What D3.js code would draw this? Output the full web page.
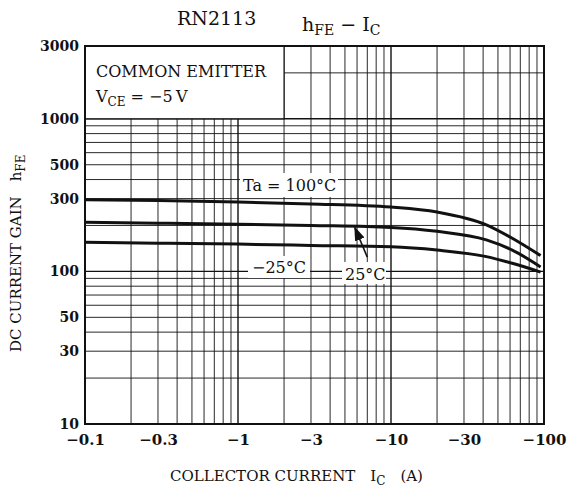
<!DOCTYPE html>
<html>
  <head>
    <meta charset="utf-8">
    <title></title>
  </head>
  <style>
  body{
    margin: 0;
    background: #fff;
    font-family: "DejaVu Serif", "Liberation Serif", serif;
  }
  .tick text{
    font-family: "DejaVu Serif", serif;
    font-weight: bold;
  }
  </style>
  <script src="https://d3js.org/d3.v7.min.js"></script>
  <body>
    <script>
    // collector current (A, shown negative) and hFE for each ambient temperature
    const currents = [0.1, 0.3, 1, 3, 10, 20, 42, 62, 95]
    const hfe100 = [295, 291, 285, 277, 264, 245, 202, 165, 127]
    const hfe25  = [210, 207, 204, 200, 194, 183, 161, 138, 107]
    const hfeM25 = [155, 153, 151, 148, 145, 138, 125, 113, 99]

    const xTicks = [0.1, 0.3, 1, 3, 10, 30, 100]
    const yTicks = [10, 30, 50, 100, 300, 500, 1000, 3000]

    var W = 568, H = 494
    var pad = { left: 85, top: 46, right: 24, bottom: 70 }

    var svg = d3.select("body").append("svg")
                .attr("width", W)
                .attr("height", H)

    var xScale = d3.scaleLog().domain([0.1, 100]).range([pad.left, W - pad.right])
    var yScale = d3.scaleLog().domain([10, 3000]).range([H - pad.bottom, pad.top])

    // grid: 1..9 per decade
    var xGrid = [], yGrid = []
    for (let e = -1; e < 2; e++) for (let m = 1; m < 10; m++) xGrid.push(m * Math.pow(10, e))
    for (let e = 1; e < 4; e++) for (let m = 1; m < 10; m++) { let v = m * Math.pow(10, e); if (v <= 3000) yGrid.push(v) }

    var grid = svg.append("g")
    grid.selectAll(".vx").data(xGrid).enter().append("line")
        .attr("x1", d => xScale(d)).attr("x2", d => xScale(d))
        .attr("y1", yScale(3000)).attr("y2", yScale(10))
        .attr("stroke", "#111")
        .attr("stroke-width", d => [0.1, 1, 10].includes(+d.toFixed(4)) ? 1.4 : 0.9)
    grid.selectAll(".hy").data(yGrid).enter().append("line")
        .attr("y1", d => yScale(d)).attr("y2", d => yScale(d))
        .attr("x1", xScale(0.1)).attr("x2", xScale(100))
        .attr("stroke", "#111")
        .attr("stroke-width", d => [100, 1000].includes(d) ? 1.4 : 0.9)

    // condition box, covers grid up to Ic = 2, hFE = 1000
    svg.append("rect")
       .attr("x", xScale(0.1)).attr("y", yScale(3000))
       .attr("width", xScale(2) - xScale(0.1))
       .attr("height", yScale(1000) - yScale(3000))
       .attr("fill", "#fff").attr("stroke", "#111").attr("stroke-width", 1.2)

    var boxText = svg.append("g").attr("font-size", "16px").attr("fill", "#111")
    boxText.append("text").attr("x", xScale(0.1) + 11).attr("y", yScale(3000) + 31)
           .text("COMMON EMITTER")
    var vce = boxText.append("text").attr("x", xScale(0.1) + 11).attr("y", yScale(3000) + 56)
    vce.append("tspan").text("V")
    vce.append("tspan").attr("font-size", "12px").attr("dy", 4).text("CE")
    vce.append("tspan").attr("dy", -4).text(" = \u22125\u2009V")

    // white backgrounds behind curve labels
    var labelBg = [
      { x: 240, y: 173, w: 98, h: 24 },
      { x: 248, y: 256, w: 62, h: 22 },
      { x: 342, y: 262, w: 44, h: 22 }
    ]
    svg.selectAll(".lbg").data(labelBg).enter().append("rect")
       .attr("x", d => d.x).attr("y", d => d.y).attr("width", d => d.w).attr("height", d => d.h)
       .attr("fill", "#fff")

    // plot border
    svg.append("rect")
       .attr("x", xScale(0.1)).attr("y", yScale(3000))
       .attr("width", xScale(100) - xScale(0.1))
       .attr("height", yScale(10) - yScale(3000))
       .attr("fill", "none").attr("stroke", "#111").attr("stroke-width", 2)

    // curves
    var line = d3.line()
                 .x((d, i) => xScale(currents[i]))
                 .y(d => yScale(d))
                 .curve(d3.curveMonotoneX)
    svg.selectAll(".curve").data([hfe100, hfe25, hfeM25]).enter().append("path")
       .attr("d", d => line(d))
       .attr("fill", "none").attr("stroke", "#111").attr("stroke-width", 3)

    // curve labels
    var lab = svg.append("g").attr("font-size", "16px").attr("fill", "#111")
    lab.append("text").attr("x", 243).attr("y", 191).text("Ta = 100\u00b0C")
    lab.append("text").attr("x", 252).attr("y", 273).text("\u221225\u00b0C")
    lab.append("text").attr("x", 345).attr("y", 280).text("25\u00b0C")

    // arrow to the 25 degC curve
    svg.append("defs").append("marker")
       .attr("id", "ah").attr("viewBox", "0 0 10 10")
       .attr("refX", 9).attr("refY", 5)
       .attr("markerWidth", 9).attr("markerHeight", 9)
       .attr("orient", "auto")
       .append("path").attr("d", "M0,1.5L10,5L0,8.5Z").attr("fill", "#111")
    svg.append("line")
       .attr("x1", xScale(7)).attr("y1", yScale(124))
       .attr("x2", xScale(5.8)).attr("y2", yScale(194))
       .attr("stroke", "#111").attr("stroke-width", 1.6)
       .attr("marker-end", "url(#ah)")

    // axes
    var xAxis = d3.axisBottom(xScale).tickValues(xTicks).tickSize(0).tickPadding(10)
                  .tickFormat(d => "\u2212" + d)
    svg.append("g").attr("transform", "translate(0," + yScale(10) + ")")
       .call(xAxis)
       .call(g => g.select(".domain").remove())
       .selectAll("text").attr("font-size", "15px").attr("fill", "#111")

    var yAxis = d3.axisLeft(yScale).tickValues(yTicks).tickSize(0).tickPadding(6)
                  .tickFormat(d => d)
    svg.append("g").attr("transform", "translate(" + xScale(0.1) + ",0)")
       .call(yAxis)
       .call(g => g.select(".domain").remove())
       .selectAll("text").attr("font-size", "14px").attr("fill", "#111")

    // titles
    svg.append("text").attr("x", 177).attr("y", 25).attr("font-size", "19px").attr("fill", "#111")
       .text("RN2113")
    var t = svg.append("text").attr("x", 302).attr("y", 31).attr("font-size", "19px").attr("fill", "#111")
    t.append("tspan").text("h")
    t.append("tspan").attr("font-size", "14px").attr("dy", 4).text("FE")
    t.append("tspan").attr("dy", -4).text(" \u2212 I")
    t.append("tspan").attr("font-size", "14px").attr("dy", 4).text("C")

    var xt = svg.append("text").attr("x", 170).attr("y", 481).attr("font-size", "15px").attr("fill", "#111")
    xt.append("tspan").text("COLLECTOR CURRENT\u2003I")
    xt.append("tspan").attr("font-size", "12px").attr("dy", 4).text("C")
    xt.append("tspan").attr("dy", -4).text("\u2003(A)")

    var yt = svg.append("text").attr("transform", "translate(21,352) rotate(-90)")
                .attr("font-size", "15px").attr("fill", "#111")
    yt.append("tspan").text("DC CURRENT GAIN\u2003h")
    yt.append("tspan").attr("font-size", "12px").attr("dy", 4).text("FE")
    </script>
  </body>
</html>
